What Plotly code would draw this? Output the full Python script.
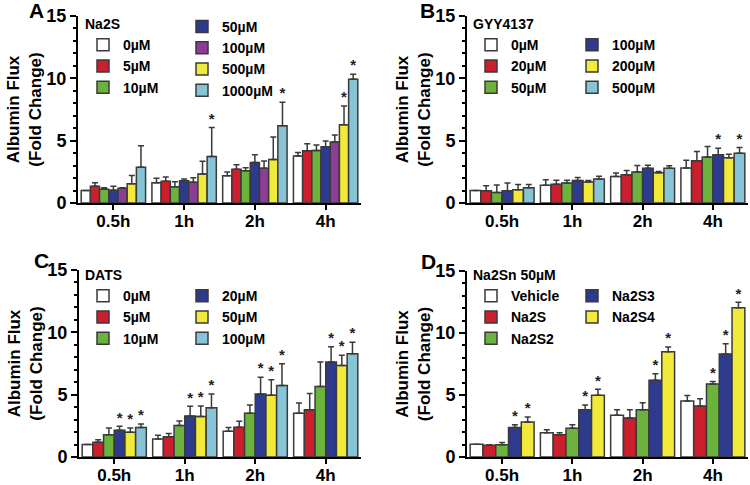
import plotly.graph_objects as go

W, H = 750, 485

TIMES = ["0.5h", "1h", "2h", "4h"]

# ---- Panel A: Na2S ----
NA2S_LABELS = ["0µM", "5µM", "10µM", "50µM", "100µM", "500µM", "1000µM"]
NA2S_MEAN = [
    [1.00, 1.63, 2.19, 3.77],
    [1.34, 1.74, 2.70, 4.20],
    [1.10, 1.31, 2.59, 4.22],
    [1.03, 1.79, 3.24, 4.52],
    [1.18, 1.66, 2.78, 4.90],
    [1.55, 2.33, 3.48, 6.27],
    [2.86, 3.72, 6.19, 9.93],
]
NA2S_ERR = [
    [0.00, 0.35, 0.30, 0.29],
    [0.29, 0.35, 0.37, 0.56],
    [0.13, 0.40, 0.24, 0.43],
    [0.31, 0.14, 0.64, 0.45],
    [0.05, 0.37, 0.59, 0.55],
    [0.65, 1.01, 1.82, 1.52],
    [1.74, 2.34, 1.90, 0.40],
]
NA2S_SIG = [
    [0, 0, 0, 0],
    [0, 0, 0, 0],
    [0, 0, 0, 0],
    [0, 0, 0, 0],
    [0, 0, 0, 0],
    [0, 0, 0, 1],
    [0, 1, 1, 1],
]

# ---- Panel B: GYY4137 ----
GYY_LABELS = ["0µM", "20µM", "50µM", "100µM", "200µM", "500µM"]
GYY_MEAN = [
    [1.00, 1.42, 2.13, 2.80],
    [0.98, 1.50, 2.27, 3.39],
    [0.85, 1.60, 2.48, 3.68],
    [0.98, 1.80, 2.78, 3.87],
    [1.06, 1.68, 2.43, 3.63],
    [1.22, 1.92, 2.78, 4.00],
]
GYY_ERR = [
    [0.00, 0.45, 0.27, 0.62],
    [0.40, 0.32, 0.33, 0.75],
    [0.60, 0.22, 0.52, 0.86],
    [0.62, 0.24, 0.24, 0.53],
    [0.42, 0.12, 0.10, 0.29],
    [0.27, 0.22, 0.20, 0.46],
]
GYY_SIG = [
    [0, 0, 0, 0],
    [0, 0, 0, 0],
    [0, 0, 0, 0],
    [0, 0, 0, 1],
    [0, 0, 0, 0],
    [0, 0, 0, 1],
]

# ---- Panel C: DATS ----
DATS_LABELS = ["0µM", "5µM", "10µM", "20µM", "50µM", "100µM"]
DATS_MEAN = [
    [1.00, 1.45, 2.06, 3.51],
    [1.18, 1.63, 2.38, 3.80],
    [1.79, 2.52, 3.51, 5.65],
    [2.14, 3.29, 5.06, 7.63],
    [1.98, 3.24, 4.96, 7.34],
    [2.36, 3.96, 5.73, 8.28],
]
DATS_ERR = [
    [0.00, 0.29, 0.30, 0.83],
    [0.21, 0.25, 0.49, 1.29],
    [0.54, 0.37, 0.67, 1.98],
    [0.32, 0.78, 1.34, 1.21],
    [0.35, 0.86, 1.23, 0.83],
    [0.29, 1.10, 1.74, 0.93],
]
DATS_SIG = [
    [0, 0, 0, 0],
    [0, 0, 0, 0],
    [0, 0, 0, 0],
    [1, 1, 1, 1],
    [1, 1, 1, 1],
    [1, 1, 1, 1],
]

# ---- Panel D: Na2Sn 50µM ----
NA2SN_LABELS = ["Vehicle", "Na2S", "Na2S2", "Na2S3", "Na2S4"]
NA2SN_MEAN = [
    [1.02, 1.96, 3.36, 4.52],
    [0.94, 1.80, 3.15, 4.11],
    [0.99, 2.31, 3.82, 5.89],
    [2.37, 3.82, 6.18, 8.31],
    [2.82, 4.97, 8.49, 12.04],
]
NA2SN_ERR = [
    [0.00, 0.24, 0.46, 0.43],
    [0.05, 0.16, 0.67, 0.59],
    [0.17, 0.30, 0.56, 0.19],
    [0.24, 0.37, 0.54, 0.83],
    [0.41, 0.49, 0.38, 0.43],
]
NA2SN_SIG = [
    [0, 0, 0, 0],
    [0, 0, 0, 0],
    [0, 0, 0, 1],
    [1, 1, 1, 1],
    [1, 1, 1, 1],
]

WHITE, RED, GREEN, BLUE = "#ffffff", "#cc1f2d", "#6cb33e", "#2d3a8e"
PURPLE, YELLOW, LBLUE = "#8c3e96", "#f1ea3a", "#86c4d6"

PANELS = [
    dict(letter="A", title="Na2S", labels=NA2S_LABELS, mean=NA2S_MEAN, err=NA2S_ERR, sig=NA2S_SIG,
         colors=[WHITE, RED, GREEN, BLUE, PURPLE, YELLOW, LBLUE], split=3, col2_blank_title=False,
         xpx=(78, 361), ypx=(16, 203), leg1=(83, 11), leg2=(182, 11), letter_pos=(36, 10)),
    dict(letter="B", title="GYY4137", labels=GYY_LABELS, mean=GYY_MEAN, err=GYY_ERR, sig=GYY_SIG,
         colors=[WHITE, RED, GREEN, BLUE, YELLOW, LBLUE], split=3, col2_blank_title=True,
         xpx=(467, 748), ypx=(16, 203), leg1=(471, 11), leg2=(572, 11), letter_pos=(427, 10)),
    dict(letter="C", title="DATS", labels=DATS_LABELS, mean=DATS_MEAN, err=DATS_ERR, sig=DATS_SIG,
         colors=[WHITE, RED, GREEN, BLUE, YELLOW, LBLUE], split=3, col2_blank_title=True,
         xpx=(79, 361), ypx=(270, 457), leg1=(83, 262), leg2=(182, 262), letter_pos=(41, 260)),
    dict(letter="D", title="Na2Sn 50µM", labels=NA2SN_LABELS, mean=NA2SN_MEAN, err=NA2SN_ERR, sig=NA2SN_SIG,
         colors=[WHITE, RED, GREEN, BLUE, YELLOW], split=3, col2_blank_title=True,
         xpx=(467, 748), ypx=(271, 457), leg1=(471, 262), leg2=(572, 262), letter_pos=(429, 261)),
]

FONT = "Liberation Sans, Arial, sans-serif"
EDGE = "#3a3a3a"

fig = go.Figure()
layout = {}
annotations = []

for pi, p in enumerate(PANELS):
    n = pi + 1
    xref = "x" if n == 1 else f"x{n}"
    yref = "y" if n == 1 else f"y{n}"
    xkey = "xaxis" if n == 1 else f"xaxis{n}"
    ykey = "yaxis" if n == 1 else f"yaxis{n}"
    l1 = 2 * pi + 1
    l2 = 2 * pi + 2
    lk1 = "legend" if l1 == 1 else f"legend{l1}"
    lk2 = f"legend{l2}"

    for si, lab in enumerate(p["labels"]):
        leg = lk1 if si < p["split"] else lk2
        fig.add_trace(go.Bar(
            x=TIMES, y=p["mean"][si], name=lab,
            xaxis=xref, yaxis=yref, legend=leg,
            offsetgroup=f"g{si}",
            marker=dict(color=p["colors"][si], line=dict(color=EDGE, width=1.5)),
            error_y=dict(type="data", array=p["err"][si], symmetric=False,
                         arrayminus=[0] * len(TIMES), color=EDGE, thickness=1.5, width=3),
            hoverinfo="skip",
        ))
    for si, lab in enumerate(p["labels"]):
        tops = [m + e for m, e in zip(p["mean"][si], p["err"][si])]
        fig.add_trace(go.Scatter(
            x=TIMES, y=tops, mode="text",
            text=["*" if s else "" for s in p["sig"][si]],
            textposition="top center",
            textfont=dict(size=15, color="#222222", family=FONT),
            xaxis=xref, yaxis=yref, offsetgroup=f"g{si}",
            showlegend=False, hoverinfo="skip", cliponaxis=False,
        ))

    x0, x1 = p["xpx"]
    ytop, ybot = p["ypx"]
    layout[xkey] = dict(
        domain=[x0 / W, x1 / W], anchor=yref, type="category",
        showline=True, linecolor="black", linewidth=2,
        ticks="outside", ticklen=5, tickwidth=2, tickcolor="black",
        ticklabelstandoff=-3,
        tickfont=dict(size=17, family=FONT, color="black", weight="bold"),
        showgrid=False, zeroline=False, automargin=False, fixedrange=True,
    )
    layout[ykey] = dict(
        domain=[1 - ybot / H, 1 - ytop / H], anchor=xref,
        range=[0, 15], tickvals=[0, 5, 10, 15],
        showline=True, linecolor="black", linewidth=2,
        ticks="outside", ticklen=6, tickwidth=2, tickcolor="black",
        minor=dict(dtick=1, ticks="outside", ticklen=3, tickwidth=1.5, tickcolor="black", showgrid=False),
        tickfont=dict(size=18, family=FONT, color="black", weight="bold"),
        title=dict(text="Albumin Flux<br>(Fold Change)", standoff=0,
                   font=dict(size=17, family=FONT, color="black", weight="bold")),
        showgrid=False, zeroline=False, automargin=False, fixedrange=True,
    )

    legfont = dict(size=14, family=FONT, color="black", weight="bold")
    layout[lk1] = dict(
        x=p["leg1"][0] / W, y=1 - p["leg1"][1] / H, xanchor="left", yanchor="top",
        bgcolor="rgba(0,0,0,0)", font=legfont, tracegroupgap=0, itemwidth=30,
        title=dict(text=p["title"], font=legfont),
        itemclick=False, itemdoubleclick=False,
    )
    l2cfg = dict(
        x=p["leg2"][0] / W, y=1 - p["leg2"][1] / H, xanchor="left", yanchor="top",
        bgcolor="rgba(0,0,0,0)", font=legfont, tracegroupgap=0, itemwidth=30,
        itemclick=False, itemdoubleclick=False,
    )
    if p["col2_blank_title"]:
        l2cfg["title"] = dict(text="\u00a0", font=legfont)
    layout[lk2] = l2cfg

    annotations.append(dict(
        text=p["letter"], x=p["letter_pos"][0] / W, y=1 - p["letter_pos"][1] / H,
        xref="paper", yref="paper", showarrow=False, xanchor="center", yanchor="middle",
        font=dict(size=21, family=FONT, color="black", weight="bold"),
    ))

fig.update_layout(
    width=W, height=H,
    margin=dict(l=0, r=0, t=0, b=0),
    paper_bgcolor="white", plot_bgcolor="white",
    font=dict(family=FONT, color="black", weight="bold"),
    barmode="group", bargap=0.09, bargroupgap=0,
    scattermode="group", scattergap=0.09,
    annotations=annotations,
    **layout,
)

fig.write_html(
    "out.html",
    config={"displayModeBar": False},
    post_script="document.body.style.margin='0';document.body.style.overflow='hidden';",
)
